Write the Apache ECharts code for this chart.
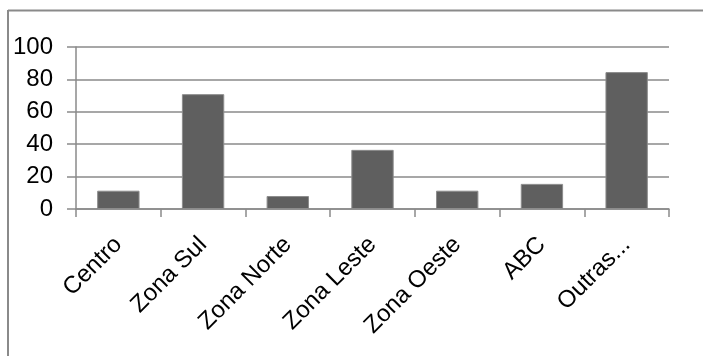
<!DOCTYPE html>
<html>
<head>
<meta charset="utf-8">
<style>
  html, body { margin: 0; padding: 0; background: #ffffff; }
  #chart { width: 705px; height: 356px; }
</style>
<script src="https://cdn.jsdelivr.net/npm/echarts@6/dist/echarts.min.js"></script>
</head>
<body>
<div id="chart"></div>
<script>
// Regions and their values
const categories = ['Centro', 'Zona Sul', 'Zona Norte', 'Zona Leste', 'Zona Oeste', 'ABC', 'Outras...'];
const values = [11.3, 70.9, 8, 36.5, 11.3, 15.5, 84.5];
const yTicks = [0, 20, 40, 60, 80, 100];

const lineGray = '#8a8a8a';
const font = 'Liberation Sans';

const chart = echarts.init(document.getElementById('chart'), null, { renderer: 'canvas' });

chart.setOption({
  animation: false,
  backgroundColor: '#ffffff',
  grid: { left: 76, right: 36, top: 47, bottom: 147, containLabel: false },
  xAxis: {
    type: 'category',
    data: categories,
    boundaryGap: true,
    axisLine: { show: true, lineStyle: { color: lineGray, width: 1.5 } },
    axisTick: { show: true, length: 8, lineStyle: { color: lineGray, width: 1.5 } },
    axisLabel: {
      interval: 0,
      rotate: 45,
      margin: 32,
      padding: [6, 0, 0, 0],
      color: '#000000',
      fontFamily: font,
      fontSize: 24
    }
  },
  yAxis: {
    type: 'value',
    min: yTicks[0],
    max: yTicks[yTicks.length - 1],
    interval: yTicks[1] - yTicks[0],
    axisLine: { show: true, lineStyle: { color: lineGray, width: 1.5 } },
    axisTick: { show: true, length: 9, lineStyle: { color: lineGray, width: 1.5 } },
    splitLine: { show: true, lineStyle: { color: lineGray, width: 1.5 } },
    axisLabel: { margin: 23, color: '#000000', fontFamily: font, fontSize: 24 }
  },
  series: [{
    type: 'bar',
    data: values,
    barWidth: '50%',
    itemStyle: { color: '#5f5f5f', borderColor: '#8c8c8c', borderWidth: 1 }
  }],
  graphic: [
    // chart frame (left and top edges)
    { type: 'line', shape: { x1: 8, y1: 10.5, x2: 703, y2: 10.5 }, style: { stroke: lineGray, lineWidth: 2 } },
    { type: 'line', shape: { x1: 8, y1: 10, x2: 8, y2: 356 }, style: { stroke: lineGray, lineWidth: 2 } }
  ]
});
</script>
</body>
</html>
